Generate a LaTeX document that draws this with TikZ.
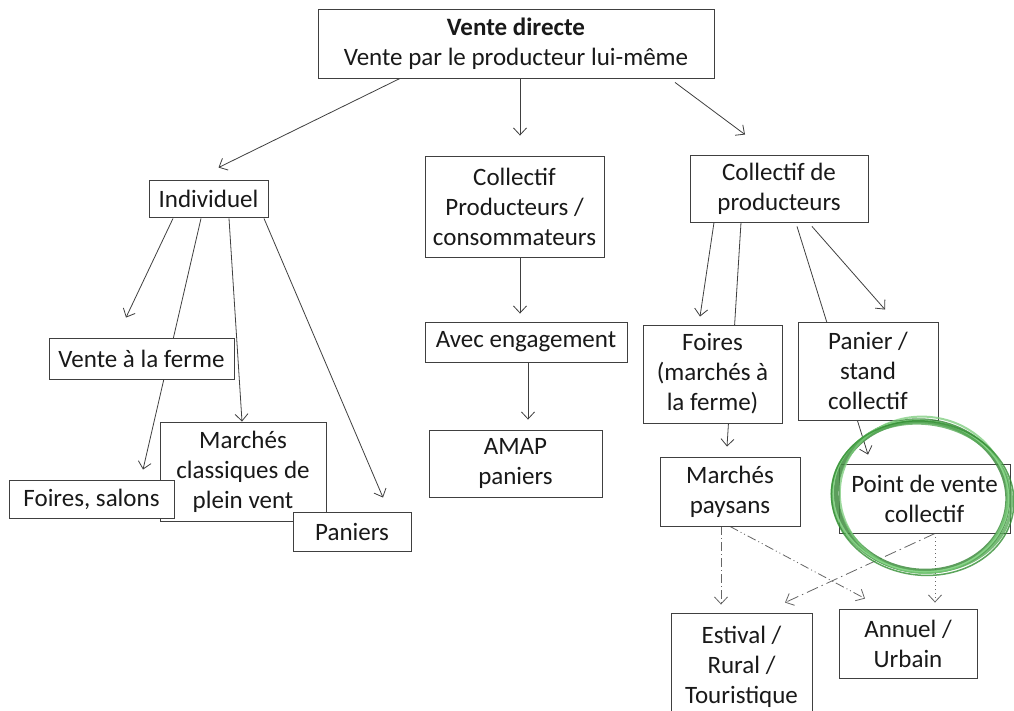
\documentclass[tikz,border=0pt]{standalone}
\usepackage{fontspec}
\setmainfont{Carlito}
\usetikzlibrary{arrows.meta,calc,backgrounds}
\begin{document}
\begin{tikzpicture}[x=1pt,y=-1pt,
  box/.style={draw=black!75,line width=0.9pt,fill=white,inner sep=0pt,align=center,
    font=\fontsize{25}{30}\selectfont,text=black!90},
  arr/.style={draw=black!75,line width=0.8pt,-{Straight Barb[length=7pt,width=13pt,line width=0.8pt]}},
  dd/.style={arr,draw=black!60,dash pattern=on 9pt off 3pt on 1pt off 3pt},
  ddd/.style={arr,draw=black!60,dash pattern=on 9pt off 3pt on 1pt off 3pt on 1pt off 3pt},
  dl/.style={arr,draw=black!60,dash pattern=on 12pt off 4pt on 1.5pt off 4pt},
  dt/.style={arr,draw=black!60,dash pattern=on 1pt off 3pt}
]
\clip (0,0) rectangle (1014,711);

\node[box,minimum width=396pt,minimum height=69pt] (top) at (516,43.5)
  {\textbf{Vente directe}\\Vente par le producteur lui-même};
\node[box,minimum width=119pt,minimum height=37pt] (ind) at (208.5,198.5) {Individuel};
\node[box,minimum width=179pt,minimum height=101pt] (cpc) at (514.5,206.5) {Collectif\\Producteurs /\\consommateurs};
\node[box,minimum width=178pt,minimum height=67pt] (cdp) at (779,188.5) {Collectif de\\producteurs};
\node[box,minimum width=185pt,minimum height=41pt] (vaf) at (141.5,358.5) {Vente à la ferme};
\node[box,minimum width=166pt,minimum height=99pt] (mc) at (243,471.5) {Marchés\\classiques de\\plein vent};
\node[box,minimum width=165pt,minimum height=38pt] (fs) at (91.5,499) {Foires, salons};
\node[box,minimum width=118pt,minimum height=39pt] (pan) at (352,531.5) {Paniers};
\node[box,minimum width=202pt,minimum height=40pt] (ae) at (526,342) {Avec engagement};
\node[box,minimum width=173pt,minimum height=67pt] (amap) at (515.5,463.5) {AMAP\\paniers};
\node[box,minimum width=139pt,minimum height=98pt] (foi) at (712.5,374) {Foires\\(marchés à\\la ferme)};
\node[box,minimum width=140pt,minimum height=98pt] (psc) at (868,371) {Panier /\\stand\\collectif};
\node[box,minimum width=140pt,minimum height=69pt] (mp) at (730,491.5) {Marchés\\paysans};
\node[box,minimum width=171pt,minimum height=69pt] (pvc) at (924.5,498.5) {Point de vente\\collectif};
\node[box,minimum width=141pt,minimum height=107pt] (est) at (741.5,666.5) {Estival /\\Rural /\\Touristique};
\node[box,minimum width=138pt,minimum height=69pt] (ann) at (908,643.5) {Annuel /\\Urbain};

\begin{scope}[on background layer]
  \fill[white] (0,0) rectangle (1014,711);
  \draw[arr] ($(top.south)+(-116,0)$) -- ($(ind.north)+(10,-12)$);
  \draw[arr] ($(top.south)+(4,0)$) -- ($(cpc.north)+(5.5,-20)$);
  \draw[arr] ($(top.south)+(159,4)$) -- ($(cdp.north)+(-34,-20)$);
  % Individuel
  \draw[arr] ($(ind.south)+(-35.5,1)$) -- ($(vaf.north)+(-15.5,-20)$);
  \draw[arr] ($(ind.south)+(-7.5,1)$) -- ($(fs.north)+(51.5,-10)$);
  \draw[arr] ($(ind.south)+(20.5,1)$) -- ($(mc.north)+(-1,0)$);
  \draw[arr] ($(ind.south)+(55.5,1)$) -- ($(pan.north)+(31,-14)$);
  % middle
  \draw[arr] ($(cpc.south)+(5.5,0)$) -- ($(ae.north)+(-6,-8)$);
  \draw[arr] ($(ae.south)+(2,0)$) -- ($(amap.north)+(12.5,-10)$);
  % collectif de producteurs
  \draw[arr] ($(cdp.south)+(-65,0)$) -- ($(foi.north)+(-12.5,-8)$);
  \draw[arr] ($(cdp.south)+(-38,0)$) -- ($(mp.north)+(-3,-10)$);
  \draw[arr] ($(cdp.south)+(18,4)$) -- ($(pvc.north)+(-56.5,-9)$);
  \draw[arr] ($(cdp.south)+(33,4)$) -- ($(psc.north)+(17,-12)$);
  % dashed
  \draw[dd] ($(mp.south)+(-9,0)$) -- ($(est.north)+(-20.5,-8)$);
  \draw[ddd] ($(mp.south)+(0,0)$) -- ($(ann.north)+(-43,-10)$);
  \draw[dl] ($(pvc.south)+(10.5,0)$) -- ($(est.north)+(43.5,-10)$);
  \draw[dt] ($(pvc.south)+(10.5,0)$) -- ($(ann.north)+(27,-6)$);
\end{scope}

% green hand-drawn circle
\begin{scope}[shift={(922,496)},rotate=-8]
  \draw[draw=green!40!black!75!white,line width=5pt,opacity=0.85] (0,0) ellipse [x radius=86pt,y radius=75pt];
  \draw[draw=green!50!black!65!white,line width=3pt,opacity=0.8] (0,1.5) ellipse [x radius=90pt,y radius=74pt];
  \draw[draw=green!40!white!80!black,line width=2pt,opacity=0.75] (1.5,-1.5) ellipse [x radius=84pt,y radius=78pt];
  \draw[draw=green!35!white!85!black,line width=1.3pt,opacity=0.85] (-1,0) ellipse [x radius=88pt,y radius=75.5pt];
  \draw[draw=green!45!black!80!white,line width=1.5pt,opacity=0.8] (1,2) ellipse [x radius=91.5pt,y radius=77pt];
\end{scope}
\end{tikzpicture}
\end{document}
